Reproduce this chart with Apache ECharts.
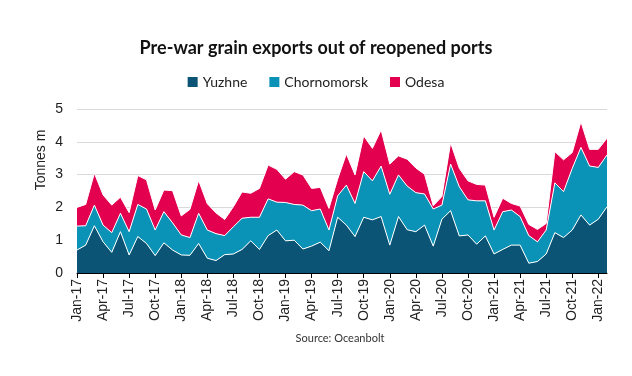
<!DOCTYPE html>
<html lang="en">
<head>
  <meta charset="utf-8" />
  <title>Pre-war grain exports</title>
  <script src="https://cdn.jsdelivr.net/npm/echarts@6.0.0/dist/echarts.min.js"></script>
  <style>
    html, body { margin: 0; padding: 0; background: #fff; }
  </style>
</head>
<body>
  <div id="main" style="width: 632px;height:376px;"></div>
  <script>
    var months = [
      'Jan-17','Feb-17','Mar-17','Apr-17','May-17','Jun-17','Jul-17','Aug-17','Sep-17','Oct-17','Nov-17','Dec-17',
      'Jan-18','Feb-18','Mar-18','Apr-18','May-18','Jun-18','Jul-18','Aug-18','Sep-18','Oct-18','Nov-18','Dec-18',
      'Jan-19','Feb-19','Mar-19','Apr-19','May-19','Jun-19','Jul-19','Aug-19','Sep-19','Oct-19','Nov-19','Dec-19',
      'Jan-20','Feb-20','Mar-20','Apr-20','May-20','Jun-20','Jul-20','Aug-20','Sep-20','Oct-20','Nov-20','Dec-20',
      'Jan-21','Feb-21','Mar-21','Apr-21','May-21','Jun-21','Jul-21','Aug-21','Sep-21','Oct-21','Nov-21','Dec-21',
      'Jan-22','Feb-22'
    ];

    // tonnes m, per month
    var yuzhne = [
      0.70, 0.85, 1.44, 0.95, 0.63, 1.26, 0.55, 1.11, 0.90, 0.53, 0.92, 0.70,
      0.55, 0.54, 0.90, 0.45, 0.38, 0.56, 0.58, 0.72, 0.98, 0.72, 1.14, 1.31,
      0.98, 1.00, 0.73, 0.82, 0.94, 0.68, 1.70, 1.46, 1.11, 1.70, 1.62, 1.72,
      0.85, 1.72, 1.32, 1.26, 1.46, 0.82, 1.64, 1.90, 1.13, 1.16, 0.88, 1.13,
      0.58, 0.72, 0.85, 0.85, 0.30, 0.35, 0.58, 1.23, 1.08, 1.31, 1.77, 1.46,
      1.64, 2.02
    ];
    var chornomorsk = [
      0.73, 0.59, 0.63, 0.51, 0.60, 0.56, 0.71, 0.98, 1.05, 0.78, 0.95, 0.83,
      0.61, 0.54, 0.92, 0.86, 0.82, 0.58, 0.83, 0.95, 0.72, 0.98, 1.12, 0.85,
      1.17, 1.09, 1.34, 1.08, 1.01, 0.63, 0.65, 1.22, 1.01, 1.39, 1.19, 1.54,
      1.55, 1.27, 1.33, 1.19, 0.95, 1.13, 0.43, 1.42, 1.50, 1.07, 1.32, 1.07,
      0.73, 1.15, 1.07, 0.87, 0.84, 0.60, 0.73, 1.52, 1.40, 1.88, 2.06, 1.80,
      1.58, 1.58
    ];
    var odesa = [
      0.57, 0.65, 0.97, 0.92, 0.84, 0.49, 0.58, 0.88, 0.89, 0.61, 0.66, 0.98,
      0.58, 0.86, 1.00, 0.80, 0.63, 0.49, 0.61, 0.80, 0.73, 0.88, 1.03, 1.00,
      0.71, 1.00, 0.92, 0.68, 0.66, 0.66, 0.51, 0.95, 0.87, 1.09, 0.99, 1.10,
      0.92, 0.58, 0.82, 0.75, 0.60, 0.10, 0.26, 0.65, 0.56, 0.58, 0.50, 0.48,
      0.39, 0.41, 0.20, 0.32, 0.34, 0.38, 0.20, 0.95, 0.97, 0.48, 0.78, 0.51,
      0.55, 0.51
    ];

    var seriesNames = ['Yuzhne', 'Chornomorsk', 'Odesa'];
    var seriesColors = ['#0b5475', '#0a93b7', '#e2004f'];
    var seriesData = [yuzhne, chornomorsk, odesa];

    var chart = echarts.init(document.getElementById('main'));

    var series = [];
    seriesNames.forEach(function (name, idx) {
      series.push({
        name: name,
        type: 'line',
        stack: 'total',
        data: seriesData[idx],
        symbol: 'none',
        color: seriesColors[idx],
        lineStyle: { color: '#ffffff', width: 1 },
        areaStyle: { color: seriesColors[idx], opacity: 1 },
        itemStyle: { color: seriesColors[idx] }
      });
    });

    var option = {
      animation: false,
      title: {
        text: 'Pre-war grain exports out of reopened ports',
        left: 'center',
        top: 34,
        textStyle: {
          fontFamily: 'Lato',
          fontSize: 18,
          fontWeight: 'bold',
          color: '#111'
        }
      },
      legend: {
        top: 70,
        left: 'center',
        icon: 'rect',
        itemWidth: 10,
        itemHeight: 10,
        itemGap: 22,
        textStyle: { fontFamily: 'Lato', fontSize: 14, color: '#222' },
        itemStyle: { borderWidth: 0 },
        data: seriesNames
      },
      grid: {
        left: 77,
        right: 25,
        top: 109,
        bottom: 103
      },
      xAxis: {
        type: 'category',
        data: months,
        boundaryGap: false,
        axisLine: { lineStyle: { color: '#000', width: 1 } },
        axisTick: { interval: 2, length: 5, lineStyle: { color: '#000' } },
        axisLabel: {
          interval: 2,
          rotate: 90,
          fontFamily: 'Liberation Sans',
          fontSize: 14,
          color: '#222',
          margin: 6
        },
        splitLine: { show: false }
      },
      yAxis: {
        type: 'value',
        min: 0,
        max: 5,
        interval: 1,
        axisLine: { show: false },
        axisTick: { show: false },
        axisLabel: {
          fontFamily: 'Liberation Sans',
          fontSize: 14,
          color: '#222',
          margin: 14
        },
        splitLine: { lineStyle: { color: '#d9d9d9', width: 1 } }
      },
      graphic: [
        {
          type: 'text',
          x: 41,
          y: 160,
          rotation: Math.PI / 2,
          style: {
            text: 'Tonnes m',
            fontFamily: 'Liberation Sans',
            fontSize: 14,
            fill: '#222',
            align: 'center',
            verticalAlign: 'middle'
          }
        },
        {
          type: 'text',
          x: 340,
          y: 338,
          style: {
            text: 'Source: Oceanbolt',
            fontFamily: 'Lato',
            fontSize: 11,
            fill: '#333',
            align: 'center',
            verticalAlign: 'middle'
          }
        }
      ],
      series: series
    };

    chart.setOption(option);
  </script>
</body>
</html>
